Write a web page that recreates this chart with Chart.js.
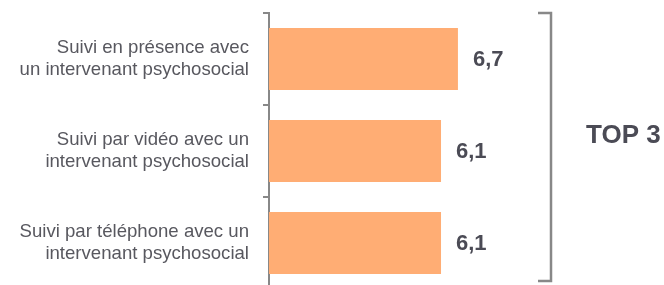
<!DOCTYPE html>
<html lang="fr">
<head>
  <meta charset="UTF-8" />
  <title>Top 3 - suivi psychosocial</title>
  <script src="https://cdn.jsdelivr.net/npm/chart.js"></script>
  <style>
    html, body {
      margin: 0;
      padding: 0;
      background: #ffffff;
      overflow: hidden;
    }
    .chart-box {
      position: absolute;
      left: 0;
      top: 0;
      width: 664px;
      height: 290px;
    }
  </style>
</head>
<body>

  <div class="chart-box">
    <canvas id="topChart" width="664" height="290"></canvas>
  </div>

  <script>
    const categories = [
      ["Suivi en présence avec", "un intervenant psychosocial"],
      ["Suivi par vidéo avec un", "intervenant psychosocial"],
      ["Suivi par téléphone avec un", "intervenant psychosocial"]
    ];
    const scores = [6.7, 6.1, 6.1];
    const scoreLabels = ["6,7", "6,1", "6,1"];
    const groupLabel = "TOP 3";

    // value labels to the right of each bar
    const valueLabels = {
      id: "valueLabels",
      afterDatasetsDraw(chart) {
        const ctx = chart.ctx;
        const meta = chart.getDatasetMeta(0);
        ctx.save();
        ctx.font = "bold 22px 'Liberation Sans', Arial, sans-serif";
        ctx.fillStyle = "#4b4b55";
        ctx.textAlign = "left";
        ctx.textBaseline = "middle";
        meta.data.forEach((bar, i) => {
          ctx.fillText(scoreLabels[i], bar.x + 15, bar.y + 1);
        });
        ctx.restore();
      }
    };

    // bracket + "TOP 3" on the right
    const topBracket = {
      id: "topBracket",
      afterDraw(chart) {
        const ctx = chart.ctx;
        const area = chart.chartArea;
        const x = area.right;
        const top = area.top;
        const bottom = 281;
        ctx.save();
        ctx.strokeStyle = "#888888";
        ctx.lineWidth = 2.5;
        ctx.beginPath();
        ctx.moveTo(x - 13, top);
        ctx.lineTo(x, top);
        ctx.lineTo(x, bottom);
        ctx.lineTo(x - 13, bottom);
        ctx.stroke();
        ctx.font = "bold 26px 'Liberation Sans', Arial, sans-serif";
        ctx.fillStyle = "#4b4b55";
        ctx.textAlign = "left";
        ctx.textBaseline = "middle";
        ctx.fillText(groupLabel, x + 35, 136);
        ctx.restore();
      }
    };

    new Chart(document.getElementById("topChart"), {
      type: "bar",
      data: {
        labels: categories,
        datasets: [{
          data: scores,
          backgroundColor: "#ffad74",
          borderWidth: 0,
          categoryPercentage: 0.84,
          barPercentage: 0.8
        }]
      },
      options: {
        indexAxis: "y",
        responsive: false,
        animation: false,
        layout: {
          padding: { top: 13, right: 113, bottom: 1, left: 0 }
        },
        plugins: {
          legend: { display: false },
          tooltip: { enabled: false }
        },
        scales: {
          x: {
            display: false,
            min: 0,
            max: 10
          },
          y: {
            offset: true,
            afterFit(scale) {
              scale.width = 269;
              scale.paddingTop = 0;
              scale.paddingBottom = 0;
            },
            grid: {
              offset: true,
              drawOnChartArea: false,
              drawTicks: true,
              tickLength: 6,
              color: "#888888",
              lineWidth: 2
            },
            border: { color: "#888888", width: 2 },
            ticks: {
              padding: 14,
              color: "#58585f",
              font: { family: "'Liberation Sans', Arial, sans-serif", size: 18.6, lineHeight: 1.2 }
            }
          }
        }
      },
      plugins: [valueLabels, topBracket]
    });
  </script>

</body>
</html>
